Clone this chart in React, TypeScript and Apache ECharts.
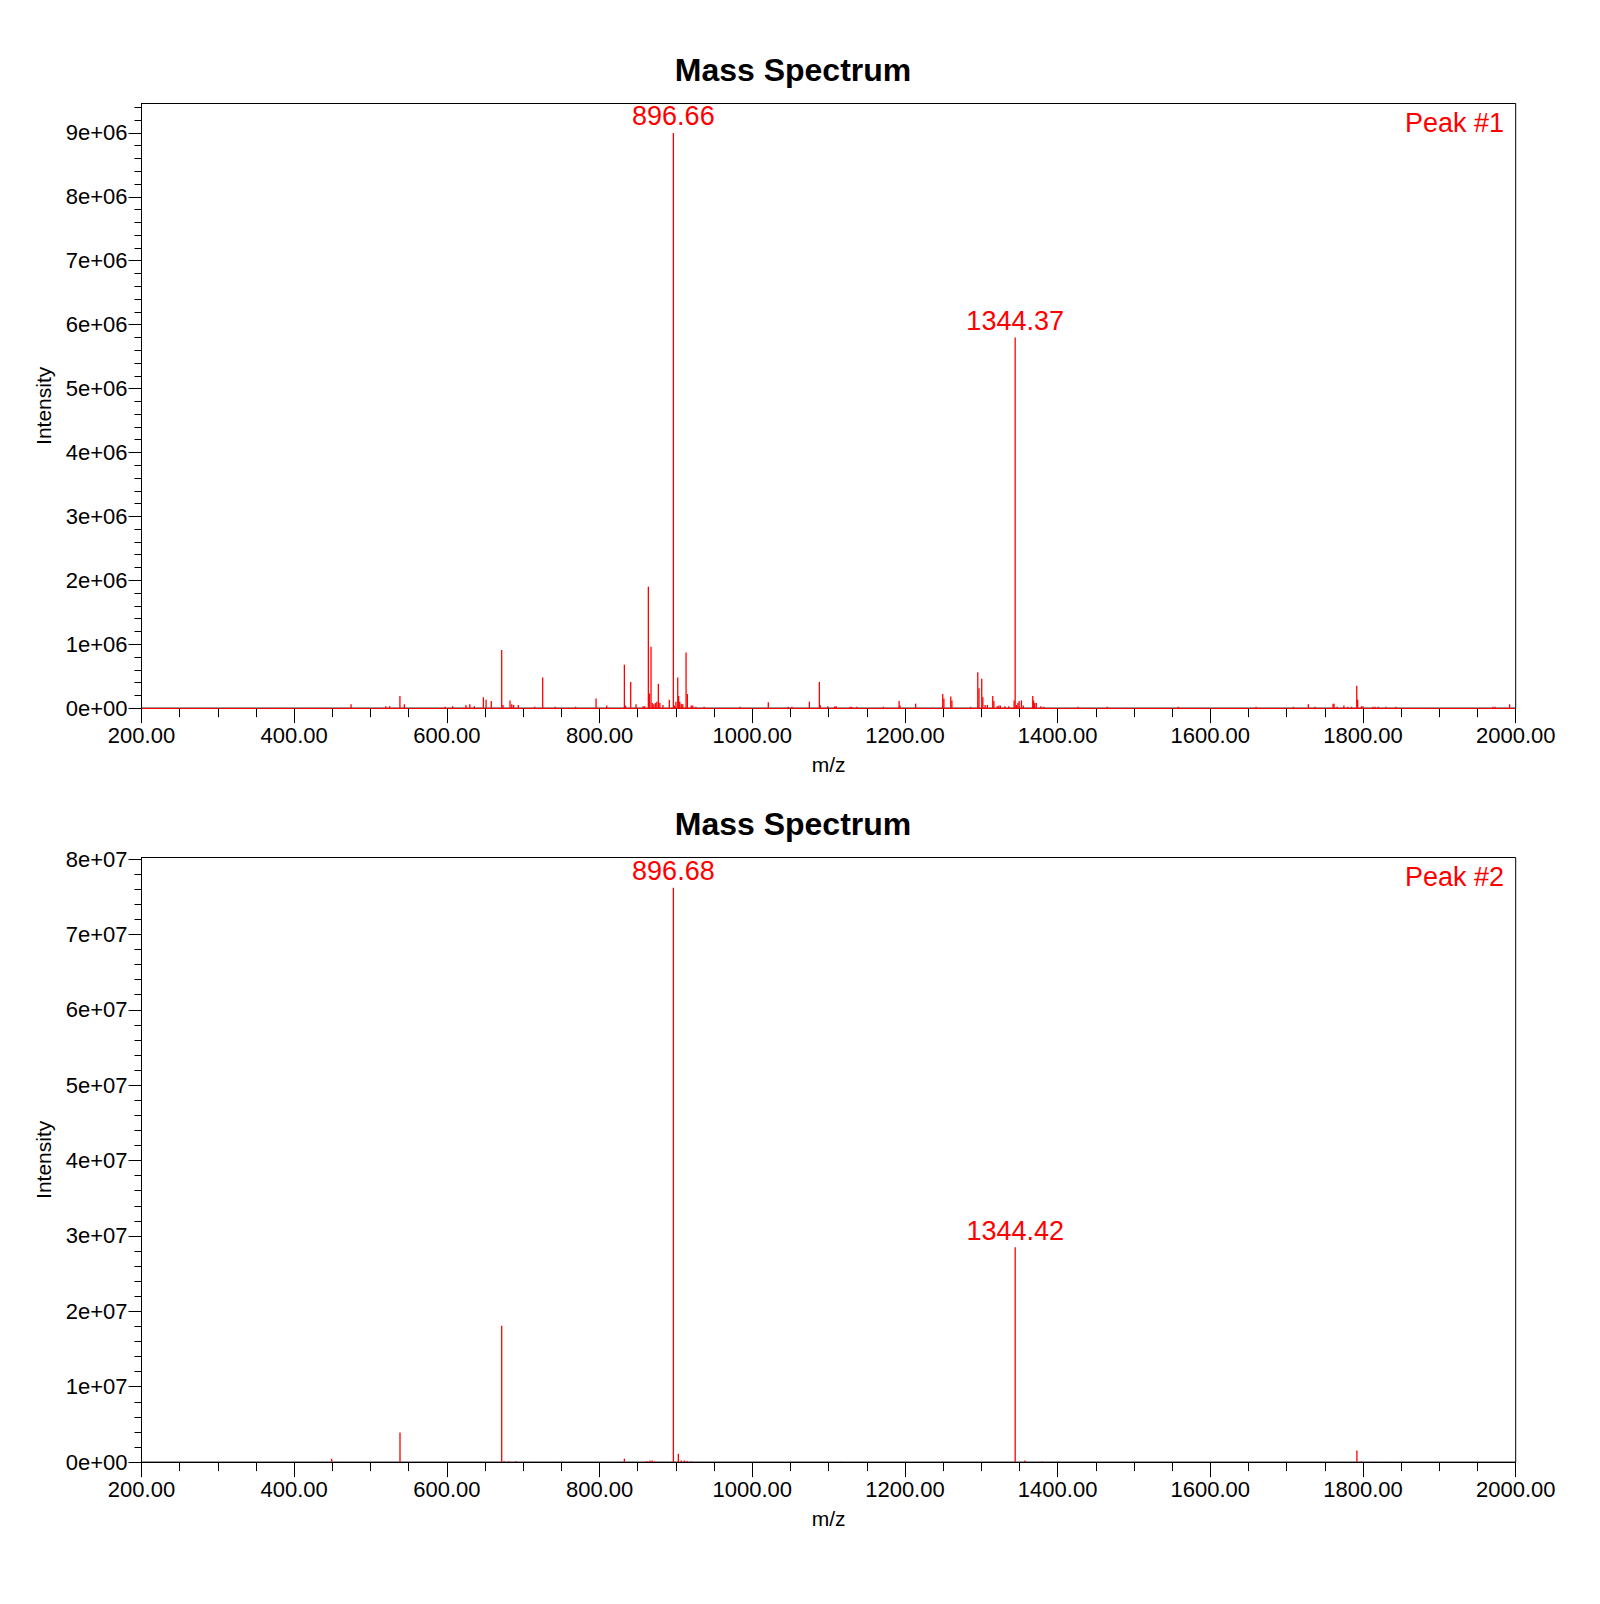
import React, { useEffect, useRef } from "react";
import * as echarts from "echarts";

// ---------- data ----------
const mzTop = [
  474.5, 520, 525, 538.5, 544.3, 597.6, 607.6, 625, 630, 636, 647.8, 651.3, 658.2, 671.8, 673.5,
  682.7, 685, 687.5, 693.6, 715, 725.5, 742, 768.7, 795.4, 809.4, 832.5, 834, 840.8, 847.8, 857,
  859, 863.9, 865.2, 867.4, 869, 871, 873, 875, 877, 879, 883, 891.4, 896.66, 898, 900, 902.4,
  903.6, 905, 907, 909, 913.3, 915, 920, 922, 926, 937, 984, 1021, 1047, 1052, 1074.8, 1087.9,
  1089, 1099, 1108, 1110, 1128, 1130, 1137, 1171.7, 1192.3, 1193.5, 1214, 1249.5, 1251, 1260,
  1261.5, 1286, 1295.4, 1297, 1300.6, 1302, 1305, 1308, 1315, 1316.5, 1321, 1323, 1325, 1331,
  1336, 1343, 1344.37, 1346, 1348, 1349.6, 1352.6, 1355, 1367.4, 1368.5, 1370, 1372, 1378, 1382,
  1426.7, 1465, 1558, 1660, 1708.8, 1728.4, 1737, 1760.8, 1762, 1766, 1775, 1780, 1785, 1791.8,
  1793, 1798, 1800, 1813, 1816, 1820, 1830, 1843, 1970, 1973, 1992,
];
const intTop = [
  0.06e6, 0.03e6, 0.03e6, 0.19e6, 0.06e6, 0.02e6, 0.03e6, 0.05e6, 0.06e6, 0.03e6, 0.17e6, 0.13e6, 0.11e6, 0.91e6, 0.05e6,
  0.12e6, 0.06e6, 0.05e6, 0.05e6, 0.02e6, 0.48e6, 0.02e6, 0.02e6, 0.15e6, 0.04e6, 0.68e6, 0.04e6, 0.41e6, 0.06e6, 0.03e6,
  0.03e6, 1.9e6, 0.23e6, 0.96e6, 0.08e6, 0.06e6, 0.08e6, 0.1e6, 0.38e6, 0.08e6, 0.05e6, 0.13e6, 9.0e6, 0.04e6, 0.1e6, 0.48e6,
  0.19e6, 0.1e6, 0.07e6, 0.06e6, 0.87e6, 0.22e6, 0.04e6, 0.04e6, 0.02e6, 0.02e6, 0.02e6, 0.09e6, 0.02e6, 0.02e6, 0.1e6, 0.41e6,
  0.05e6, 0.03e6, 0.03e6, 0.03e6, 0.02e6, 0.02e6, 0.02e6, 0.02e6, 0.11e6, 0.04e6, 0.07e6, 0.22e6, 0.15e6, 0.18e6,
  0.12e6, 0.02e6, 0.56e6, 0.31e6, 0.46e6, 0.17e6, 0.05e6, 0.05e6, 0.19e6, 0.11e6, 0.03e6, 0.04e6, 0.04e6, 0.03e6,
  0.03e6, 0.12e6, 5.8e6, 0.05e6, 0.08e6, 0.11e6, 0.12e6, 0.04e6, 0.19e6, 0.12e6, 0.08e6, 0.08e6, 0.03e6, 0.02e6,
  0.02e6, 0.02e6, 0.02e6, 0.02e6, 0.02e6, 0.06e6, 0.02e6, 0.07e6, 0.07e6, 0.02e6, 0.04e6, 0.02e6, 0.02e6, 0.35e6,
  0.13e6, 0.03e6, 0.03e6, 0.02e6, 0.02e6, 0.02e6, 0.02e6, 0.02e6, 0.02e6, 0.02e6, 0.06e6,
];
const labeledTop = [896.66, 1344.37];

const mzBot = [
  449.1, 538.6, 671.8, 675, 681, 690.8, 745, 832.5, 862, 866, 869, 872, 896.68, 903.2, 907, 911,
  915, 920, 1116, 1249, 1344.42, 1357, 1380, 1402, 1792, 1798, 1810, 1831,
];
const intBot = [
  0.45e6, 3.93e6, 18.1e6, 0.1e6, 0.1e6, 0.15e6, 0.05e6, 0.45e6, 0.15e6, 0.2e6, 0.2e6, 0.1e6, 76.2e6, 1.1e6, 0.2e6, 0.2e6,
  0.15e6, 0.1e6, 0.05e6, 0.05e6, 28.5e6, 0.2e6, 0.1e6, 0.05e6, 1.55e6, 0.1e6, 0.05e6, 0.05e6,
];
const labeledBot = [896.68, 1344.42];

const xTicks = [200, 400, 600, 800, 1000, 1200, 1400, 1600, 1800, 2000];
const yTicksTop = [0, 1e6, 2e6, 3e6, 4e6, 5e6, 6e6, 7e6, 8e6, 9e6];
const yTicksBot = [0, 1e7, 2e7, 3e7, 4e7, 5e7, 6e7, 7e7, 8e7];

const titles = ["Mass Spectrum", "Mass Spectrum"];
const peakTags = ["Peak #1", "Peak #2"];

// ---------- helpers ----------
const FONT = "'Liberation Sans', Arial, sans-serif";
const RED = "#ff0000";

function expFmt(v: number, step: number) {
  if (Math.abs(v / step - Math.round(v / step)) > 1e-6) return "";
  if (v === 0) return "0e+00";
  const s = v.toExponential(0);
  const [m, e] = s.split("e");
  const sign = e[0] === "-" ? "-" : "+";
  const d = e.replace(/[+-]/, "").padStart(2, "0");
  return `${m}e${sign}${d}`;
}

export default function App() {
  const ref = useRef<HTMLDivElement>(null);
  useEffect(() => {
    if (!ref.current) return;
    const chart = echarts.init(ref.current, null, { renderer: "svg" });

    const gridH = 604.6;
    const offset = 754;
    const grids = [0, 1].map((i) => ({
      left: 141.5,
      right: 84.3,
      top: 103.5 + i * offset,
      height: gridH,
      show: true,
      borderColor: "#000",
      borderWidth: 1,
      backgroundColor: "transparent",
    }));

    const xAxes = [0, 1].map((i) => ({
      type: "value",
      gridIndex: i,
      min: 200,
      max: 2000,
      interval: 200,
      name: "m/z",
      nameLocation: "middle",
      nameGap: 46,
      nameTextStyle: { color: "#000", fontSize: 21, fontFamily: FONT },
      axisLine: { show: true, lineStyle: { color: i === 0 ? RED : "#000", width: 1 } },
      axisTick: { show: true, length: 15, customValues: xTicks, lineStyle: { color: "#000" } },
      minorTick: { show: true, splitNumber: 4, length: 9, lineStyle: { color: "#000" } },
      axisLabel: {
        color: "#000",
        fontSize: 22,
        fontFamily: FONT,
        margin: 16,
        formatter: (v: number) => v.toFixed(2),
      },
      splitLine: { show: false },
    }));

    const yMax = [9.46e6, 8.02e7];
    const yStep = [1e6, 1e7];
    const yTicks = [yTicksTop, yTicksBot];
    const yAxes = [0, 1].map((i) => ({
      type: "value",
      gridIndex: i,
      min: 0,
      max: yMax[i],
      interval: yStep[i],
      name: "Intensity",
      nameLocation: "middle",
      nameGap: 88,
      nameTextStyle: { color: "#000", fontSize: 21, fontFamily: FONT },
      axisLine: { show: true, lineStyle: { color: "#000", width: 1 } },
      axisTick: { show: true, length: 13, customValues: yTicks[i], lineStyle: { color: "#000" } },
      minorTick: { show: true, splitNumber: 5, length: 7, lineStyle: { color: "#000" } },
      axisLabel: {
        color: "#000",
        fontSize: 22,
        fontFamily: FONT,
        margin: 14,
        customValues: yTicks[i],
        formatter: (v: number) => expFmt(v, yStep[i]),
      },
      splitLine: { show: false },
    }));

    const mzs = [mzTop, mzBot];
    const ints = [intTop, intBot];
    const labeled = [labeledTop, labeledBot];
    const series = [0, 1].map((i) => ({
      type: "bar",
      xAxisIndex: i,
      yAxisIndex: i,
      barWidth: 1.3,
      itemStyle: { color: RED },
      label: {
        show: false,
        position: "top",
        distance: 3,
        color: RED,
        fontSize: 27,
        fontFamily: FONT,
        formatter: (p: any) => Number(p.value[0]).toFixed(2),
      },
      data: mzs[i].map((m, k) => {
        const item: any = { value: [m, ints[i][k]] };
        if (labeled[i].includes(m)) item.label = { show: true };
        return item;
      }),
    }));

    const graphic: any[] = [];
    [0, 1].forEach((i) => {
      graphic.push({
        type: "text",
        x: 793,
        y: 70 + i * offset,
        style: {
          text: titles[i],
          fill: "#000",
          font: `bold 32px ${FONT}`,
          textAlign: "center",
          textVerticalAlign: "middle",
        },
      });
      graphic.push({
        type: "text",
        x: 1504,
        y: 123 + i * offset,
        style: {
          text: peakTags[i],
          fill: RED,
          font: `27px ${FONT}`,
          textAlign: "right",
          textVerticalAlign: "middle",
        },
      });
    });

    chart.setOption({
      animation: false,
      backgroundColor: "#fff",
      grid: grids,
      xAxis: xAxes,
      yAxis: yAxes,
      series,
      graphic,
    } as any);

    return () => chart.dispose();
  }, []);

  return (
    <div
      ref={ref}
      style={{ position: "fixed", left: 0, top: 0, width: 1600, height: 1604, background: "#fff" }}
    />
  );
}
